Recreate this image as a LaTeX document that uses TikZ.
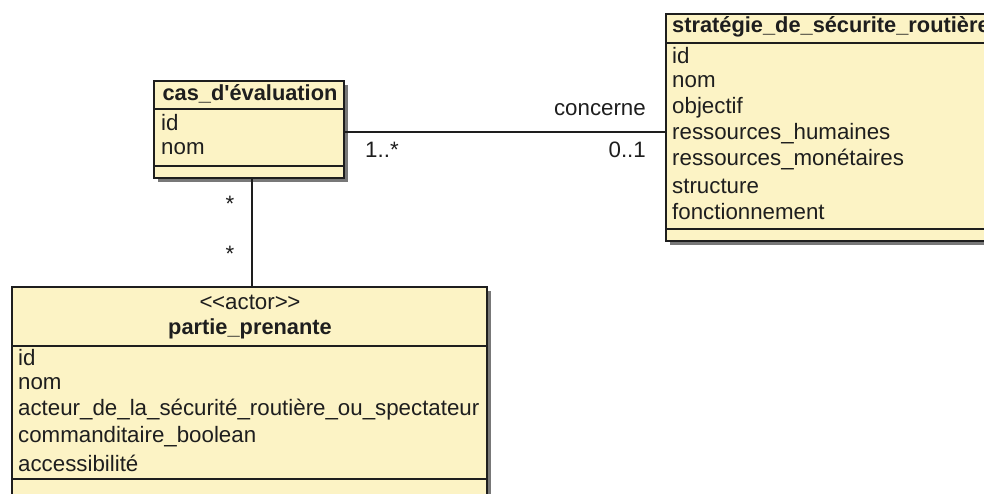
\documentclass[tikz,border=0pt]{standalone}
\usepackage{fontspec}
\setmainfont{Liberation Sans}[Ligatures=TeXOff]
\usetikzlibrary{shadows}
\definecolor{classfill}{RGB}{252,243,197}
\definecolor{inkc}{RGB}{30,30,30}
\definecolor{shadowc}{RGB}{120,120,120}
\tikzset{
  classbox/.style={draw=inkc, line width=1.4pt, fill=classfill, inner sep=0pt,
    drop shadow={shadow xshift=4pt, shadow yshift=-4pt, fill=shadowc, opacity=1}},
  sepline/.style={draw=inkc, line width=1.2pt},
  attr/.style={anchor=west, inner sep=0pt, text=inkc, font=\fontsize{22.3}{24}\selectfont},
  hdr/.style={inner sep=0pt, text=inkc, font=\fontsize{21.8}{24}\selectfont\bfseries},
  lbl/.style={inner sep=0pt, text=inkc, font=\fontsize{22.3}{24}\selectfont},
  assoc/.style={draw=inkc, line width=1.4pt}
}
\begin{document}
\begin{tikzpicture}[x=1pt,y=-1pt]
\useasboundingbox (0,0) rectangle (984,493);
\clip (0,0) rectangle (984,493);
\fill[white] (0,0) rectangle (984,493);

% class cas_d'evaluation
\node[classbox, minimum width=190pt, minimum height=97pt] (cas) at (249,129.5) {};
\draw[sepline] (cas.west |- 0,109) -- (cas.east |- 0,109);
\draw[sepline] (cas.west |- 0,166) -- (cas.east |- 0,166);
\node[hdr] (cash) at (250,94) {cas\_d'évaluation};
\node[attr] (cas1) at (161,123) {id};
\node[attr] (cas2) at (161,149) {nom};

% class strategie
\node[classbox, minimum width=344pt, minimum height=227pt] (strat) at (838,127.5) {};
\draw[sepline] (strat.west |- 0,43) -- (strat.east |- 0,43);
\draw[sepline] (strat.west |- 0,229) -- (strat.east |- 0,229);
\node[hdr, anchor=west] (strath) at (672,27) {stratégie\_de\_sécurite\_routière};
\node[attr] (strat1) at (672,56) {id};
\node[attr] (strat2) at (672,82) {nom};
\node[attr] (strat3) at (672,108) {objectif};
\node[attr] (strat4) at (672,134) {ressources\_humaines};
\node[attr] (strat5) at (672,160) {ressources\_monétaires};
\node[attr] (strat6) at (672,186) {structure};
\node[attr] (strat7) at (672,212) {fonctionnement};

% class partie_prenante
\node[classbox, minimum width=475pt, minimum height=214pt] (part) at (249.5,394) {};
\draw[sepline] (part.west |- 0,346) -- (part.east |- 0,346);
\draw[sepline] (part.west |- 0,479) -- (part.east |- 0,479);
\node[lbl] (parts) at (250,302) {<\kern-0.5pt<actor>\kern-0.5pt>};
\node[hdr] (parth) at (250,329) {partie\_prenante};
\node[attr] (part1) at (18,358) {id};
\node[attr] (part2) at (18,384) {nom};
\node[attr] (part3) at (18,410) {acteur\_de\_la\_sécurité\_routière\_ou\_spectateur};
\node[attr] (part4) at (18,437) {commanditaire\_boolean};
\node[attr] (part5) at (18,463) {accessibilité};

% associations
\draw[assoc] ([yshift=-2.5pt]cas.east) -- ([yshift=-2.5pt]cas.east -| strat.west);
\node[lbl, anchor=east] (concerne) at (646,110) {concerne};
\node[lbl, anchor=west] (m1) at (365,150) {1..*};
\node[lbl, anchor=east] (m2) at (646,150) {0..1};

\draw[assoc] ([xshift=3pt]cas.south) -- ([xshift=3pt]cas.south |- part.north);
\node[lbl] (s1) at (230,204) {*};
\node[lbl] (s2) at (230,254) {*};
\end{tikzpicture}
\end{document}
